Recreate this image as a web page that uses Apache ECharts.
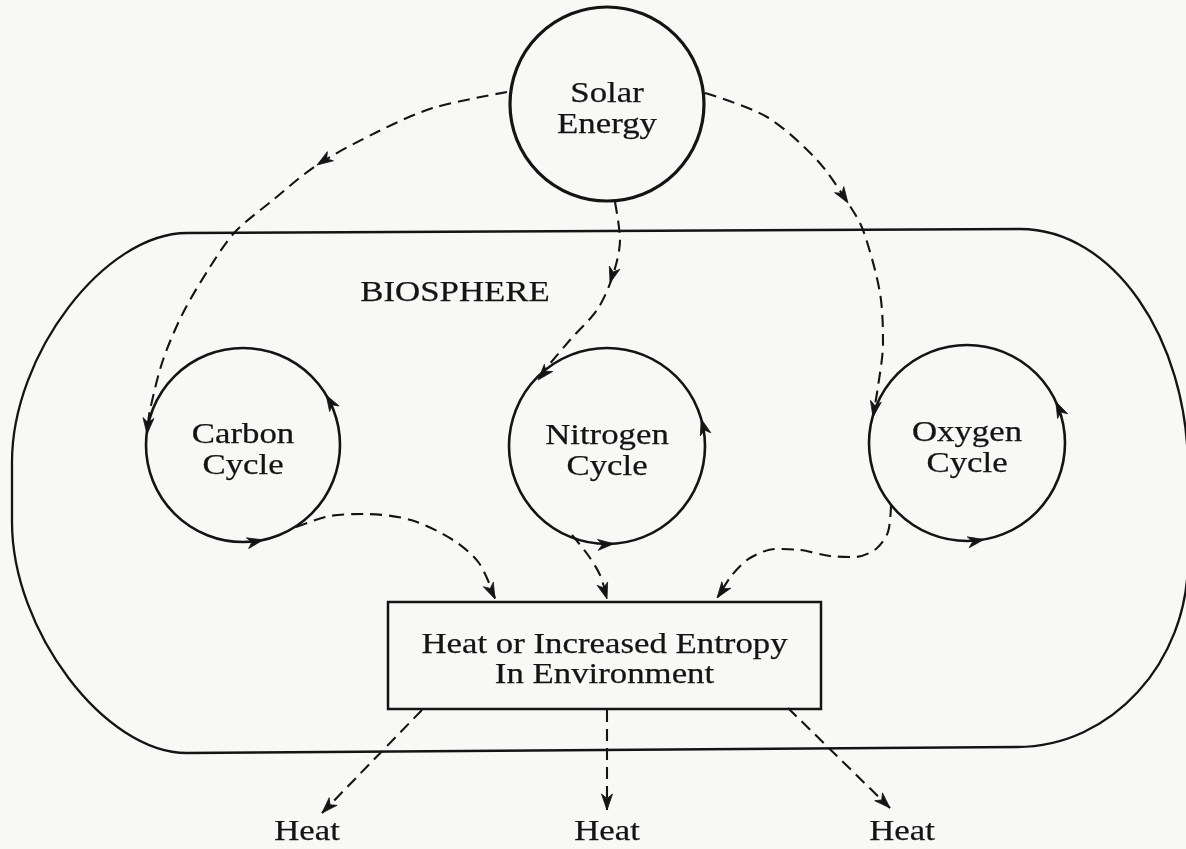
<!DOCTYPE html>
<html>
<head>
<meta charset="utf-8">
<script src="https://cdn.jsdelivr.net/npm/echarts/dist/echarts.min.js"></script>
<style>
  html, body { margin: 0; padding: 0; background: #f8f8f7; }
  #main { width: 1186px; height: 849px; }
</style>
</head>
<body>
<div id="main"></div>
<script>
// diagram coordinates (x to the right, y downward)
var circleNodes = [
    // [cx, cy, r, label]
    [607, 104, 97, 'Solar\nEnergy'],
    [243, 445, 97, 'Carbon\nCycle'],
    [607, 446, 98, 'Nitrogen\nCycle'],
    [967, 443, 98, 'Oxygen\nCycle']
];

// ends of the straight edges of the biosphere: top-left, top-right, bottom-right, bottom-left
var biosphereCorners = [[187, 233], [1020, 229], [1017, 747], [187, 753]];
// outermost x of the left and right ends
var biosphereReach = [12, 1188];
// y range of the nearly straight part of the left and right ends
var biosphereSides = [[462, 522], [470, 560]];

var entropyBox = [388, 602, 821, 709];
var entropyText = 'Heat or Increased Entropy\nIn Environment';

var textLabels = [
    [455, 293, 'BIOSPHERE'],
    [307, 832, 'Heat'],
    [607, 832, 'Heat'],
    [902, 832, 'Heat']
];

var solarToCarbon = [[507, 92], [433, 108], [377, 132], [317, 165], [273, 200], [235, 232],
    [210, 267], [183, 313], [163, 360], [150, 410], [147, 432]];
var solarToNitrogen = [[615, 202], [620, 240], [612, 278], [597, 310], [570, 340], [538, 378]];
var solarToOxygen = [[705, 93], [767, 117], [817, 160], [848, 203], [863, 230], [880, 293],
    [883, 343], [877, 393], [873, 415]];
var carbonToBox = [[296, 527], [330, 516], [365, 514], [411, 520], [453, 540], [479, 563], [495, 598]];
var nitrogenToBox = [[572, 535], [588, 555], [600, 575], [607, 598]];
var oxygenToBox = [[891, 505], [888, 532], [876, 549], [855, 557], [830, 556], [800, 550],
    [775, 549], [750, 558], [732, 575], [718, 597]];
var boxToHeat = [
    [[422, 710], [322, 813]],
    [[607, 710], [607, 810]],
    [[788, 708], [890, 808]]
];

// arrow tips with direction [x, y, dx, dy]
var flowArrows = [
    [317, 165, -104, 68], [147, 434, -2, 22],
    [610, 283, -20, 67], [538, 380, -33, 38],
    [848, 203, 46, 70], [873, 417, -4, 22],
    [495, 599, 16, 35], [607, 599, 7, 23], [717, 598, -18, 25],
    [322, 813, -100, 103], [607, 810, 0, 1], [890, 808, 102, 100]
];
// arrows on the cycle circles: [circle index, angle in degrees]
var cycleArrows = [[1, 78], [1, -31], [2, 86], [2, -16], [3, 80], [3, -25]];

var serif = '"Liberation Serif", "Times New Roman", serif';
var ink = '#141414';

var myChart = echarts.init(document.getElementById('main'));

function pt(api, x, y) {
    var p = api.coord([x, y]);
    return p[0].toFixed(1) + ' ' + p[1].toFixed(1);
}

function biosphereItem(params, api) {
    var tl = biosphereCorners[0], tr = biosphereCorners[1], br = biosphereCorners[2], bl = biosphereCorners[3];
    var xl = biosphereReach[0], xr = biosphereReach[1];
    var lTop = biosphereSides[0][0], lBot = biosphereSides[0][1];
    var rTop = biosphereSides[1][0], rBot = biosphereSides[1][1];
    var kl = 0.47, kr = 0.55;
    var d = 'M' + pt(api, tl[0], tl[1]) +
        ' L' + pt(api, tr[0], tr[1]) +
        ' C' + pt(api, tr[0] + kr * (xr - tr[0]), tr[1]) + ' ' + pt(api, xr, rTop - kr * (rTop - tr[1])) + ' ' + pt(api, xr, rTop) +
        ' L' + pt(api, xr, rBot) +
        ' C' + pt(api, xr, rBot + kr * (br[1] - rBot)) + ' ' + pt(api, br[0] + kr * (xr - br[0]), br[1]) + ' ' + pt(api, br[0], br[1]) +
        ' L' + pt(api, bl[0], bl[1]) +
        ' C' + pt(api, bl[0] - kl * (bl[0] - xl), bl[1]) + ' ' + pt(api, xl, lBot + kl * (bl[1] - lBot)) + ' ' + pt(api, xl, lBot) +
        ' L' + pt(api, xl, lTop) +
        ' C' + pt(api, xl, lTop - kl * (lTop - tl[1])) + ' ' + pt(api, tl[0] - kl * (tl[0] - xl), tl[1]) + ' ' + pt(api, tl[0], tl[1]) + ' Z';
    return {
        type: 'path',
        shape: { pathData: d },
        style: { fill: 'none', stroke: ink, lineWidth: 2.3 }
    };
}

function boxItem(params, api) {
    var a = api.coord([entropyBox[0], entropyBox[1]]);
    var b = api.coord([entropyBox[2], entropyBox[3]]);
    var c = api.coord([(entropyBox[0] + entropyBox[2]) / 2, (entropyBox[1] + entropyBox[3]) / 2 + 5]);
    return {
        type: 'group',
        children: [{
            type: 'rect',
            shape: { x: a[0], y: a[1], width: b[0] - a[0], height: b[1] - a[1] },
            style: { fill: 'none', stroke: ink, lineWidth: 2.5 }
        }, {
            type: 'text', x: c[0], y: c[1], scaleX: 1.16,
            style: {
                text: entropyText, font: '30px ' + serif, fill: ink, stroke: ink, lineWidth: 0.25,
                align: 'center', verticalAlign: 'middle', lineHeight: 30
            }
        }]
    };
}

function circleItem(params, api) {
    var n = circleNodes[params.dataIndex];
    var p = api.coord([n[0], n[1]]);
    var r = api.size([n[2], 0], [n[0], n[1]])[0];
    return {
        type: 'group',
        children: [{
            type: 'circle',
            shape: { cx: p[0], cy: p[1], r: r },
            style: { fill: 'none', stroke: ink, lineWidth: params.dataIndex === 0 ? 3.2 : 2.6 }
        }, {
            type: 'text', x: p[0], y: p[1] + 6, scaleX: 1.16,
            style: {
                text: n[3], font: '30px ' + serif, fill: ink, stroke: ink, lineWidth: 0.25,
                align: 'center', verticalAlign: 'middle', lineHeight: 31
            }
        }]
    };
}

function arrowHead(api, x, y, dx, dy) {
    var tip = api.coord([x, y]);
    var ref = api.coord([x + dx, y + dy]);
    var ux = ref[0] - tip[0], uy = ref[1] - tip[1];
    var len = Math.sqrt(ux * ux + uy * uy) || 1;
    ux /= len; uy /= len;
    var L = 16, Wd = 5.5;
    var bx = tip[0] - L * ux, by = tip[1] - L * uy;
    return {
        type: 'polygon',
        shape: {
            points: [
                [tip[0], tip[1]],
                [bx - Wd * uy, by + Wd * ux],
                [tip[0] - 0.72 * L * ux, tip[1] - 0.72 * L * uy],
                [bx + Wd * uy, by - Wd * ux]
            ]
        },
        style: { fill: ink, stroke: ink, lineWidth: 0.8 }
    };
}

function flowArrowItem(params, api) {
    var a = flowArrows[params.dataIndex];
    return arrowHead(api, a[0], a[1], a[2], a[3]);
}

function cycleArrowItem(params, api) {
    var c = cycleArrows[params.dataIndex];
    var n = circleNodes[c[0]];
    var t = c[1] * Math.PI / 180;
    var x = n[0] + n[2] * Math.cos(t), y = n[1] + n[2] * Math.sin(t);
    return arrowHead(api, x, y, Math.sin(t) * 10, -Math.cos(t) * 10);
}

function labelItem(params, api) {
    var l = textLabels[params.dataIndex];
    var p = api.coord([l[0], l[1]]);
    return {
        type: 'text', x: p[0], y: p[1], scaleX: 1.16,
        style: {
            text: l[2], font: '30px ' + serif, fill: ink, stroke: ink, lineWidth: 0.25,
            align: 'center', verticalAlign: 'middle'
        }
    };
}

function dashed(points, smooth) {
    return {
        type: 'line',
        data: points,
        smooth: smooth,
        symbol: 'none',
        silent: true,
        clip: false,
        lineStyle: { color: ink, width: 2.1, type: [12, 7] }
    };
}

var series = [
    { type: 'custom', renderItem: biosphereItem, data: [[0, 0]], silent: true },
    { type: 'custom', renderItem: boxItem, data: [[0, 0]], silent: true },
    { type: 'custom', renderItem: circleItem, data: circleNodes.map(function (n) { return [n[0], n[1]]; }), silent: true },
    dashed(solarToCarbon, 0.3),
    dashed(solarToNitrogen, 0.3),
    dashed(solarToOxygen, 0.3),
    dashed(carbonToBox, 0.3),
    dashed(nitrogenToBox, 0.3),
    dashed(oxygenToBox, 0.3)
];
boxToHeat.forEach(function (seg) { series.push(dashed(seg, false)); });
series.push(
    { type: 'custom', renderItem: flowArrowItem, data: flowArrows.map(function (a) { return [a[0], a[1]]; }), silent: true, z: 5 },
    { type: 'custom', renderItem: cycleArrowItem, data: cycleArrows.map(function (c) { return [circleNodes[c[0]][0], circleNodes[c[0]][1]]; }), silent: true, z: 5 },
    { type: 'custom', renderItem: labelItem, data: textLabels.map(function (l) { return [l[0], l[1]]; }), silent: true }
);

myChart.setOption({
    backgroundColor: '#f8f8f7',
    animation: false,
    grid: { left: 0, right: 0, top: 0, bottom: 0 },
    xAxis: { type: 'value', min: 0, max: 1186, show: false },
    yAxis: { type: 'value', min: 0, max: 849, inverse: true, show: false },
    series: series
});
</script>
</body>
</html>
